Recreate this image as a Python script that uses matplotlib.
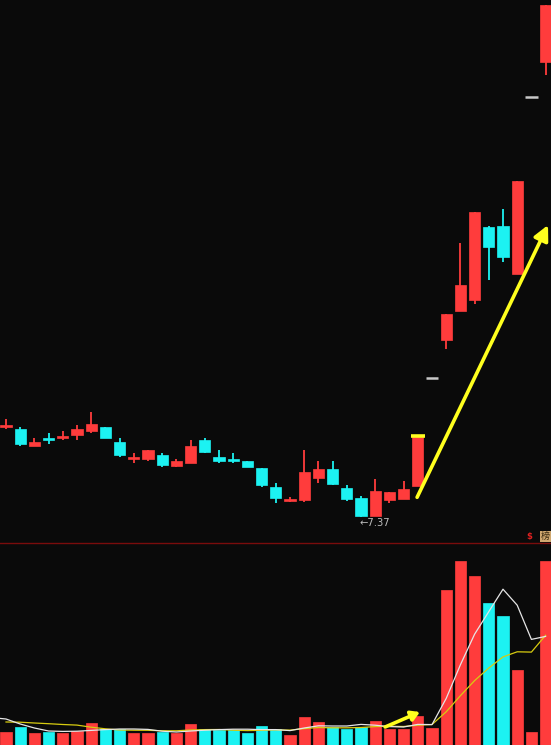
import matplotlib
matplotlib.use("Agg")
import matplotlib.pyplot as plt
import numpy as np
import pandas as pd
from matplotlib.lines import Line2D

# ---------------- data ----------------
opens  = [8.69, 8.67, 8.42, 8.53, 8.53, 8.58, 8.64, 8.69, 8.47, 8.23,
          8.22, 8.29, 8.12, 8.17, 8.51, 8.26, 8.22, 8.19, 8.09, 7.81,
          7.60, 7.62, 7.94, 8.07, 7.79, 7.65, 7.39, 7.62, 7.63, 7.82,
          9.42, 9.97, 10.41, 10.57, 11.64, 11.65, 10.95, 13.55, 14.07]
highs  = [8.82, 8.69, 8.54, 8.61, 8.64, 8.72, 8.91, 8.70, 8.53, 8.31,
          8.36, 8.31, 8.22, 8.51, 8.54, 8.36, 8.31, 8.19, 8.09, 7.87,
          7.66, 8.35, 8.19, 8.20, 7.84, 7.68, 7.93, 7.74, 7.90, 8.56,
          9.42, 10.36, 11.40, 11.86, 11.66, 11.90, 12.32, 13.55, 14.91]
lows   = [8.67, 8.42, 8.41, 8.45, 8.51, 8.51, 8.60, 8.53, 8.26, 8.16,
          8.20, 8.10, 8.10, 8.16, 8.31, 8.17, 8.17, 8.10, 7.81, 7.58,
          7.59, 7.59, 7.87, 7.84, 7.60, 7.37, 7.38, 7.58, 7.63, 7.82,
          9.42, 9.84, 10.41, 10.51, 10.86, 11.13, 10.95, 13.55, 13.88]
closes = [8.72, 8.45, 8.47, 8.50, 8.57, 8.67, 8.74, 8.54, 8.28, 8.26,
          8.35, 8.13, 8.20, 8.42, 8.32, 8.19, 8.19, 8.10, 7.84, 7.65,
          7.63, 8.03, 8.07, 7.85, 7.63, 7.38, 7.76, 7.74, 7.78, 8.56,
          9.42, 10.36, 10.78, 11.86, 11.35, 11.20, 12.32, 13.55, 14.91]
volume = [13, 18, 12, 13, 12, 14, 22, 16, 16, 12,
          12, 13, 12, 21, 16, 15, 15, 12, 19, 16,
          10, 28, 23, 18, 16, 18, 24, 16, 16, 29,
          17, 155, 184, 169, 142, 129, 75, 13, 184]
vol_prior = [20, 20, 20, 20, 20, 43, 32, 28, 14]   # sessions before the visible window
low_label = "←7.37"
low_label_idx = 25
breakout_idx = 29

# ---------------- style ----------------
BG = "#0a0a0a"
RED = "#ff3c3c"
CYAN = "#1cf2f2"
GRAY = "#c8c8c8"
YEL = "#ffff1e"

W, H = 551, 745
fig = plt.figure(figsize=(W / 100, H / 100), dpi=100, facecolor=BG)
sep = 202 / H
ax = fig.add_axes([0, sep, 1, 1 - sep], facecolor=BG)
axv = fig.add_axes([0, 0, 1, sep], facecolor=BG)

n = len(closes)
x = np.arange(n)
o = np.array(opens); c = np.array(closes); h = np.array(highs); l = np.array(lows)

flat = (o == c) & (h == l)
up = (c >= o) & ~flat
down = c < o
body_w = 0.8

# wicks
for mask, col in ((up, RED), (down, CYAN)):
    ax.vlines(x[mask], l[mask], h[mask], color=col, lw=1.3, zorder=2)
# bodies
for mask, col in ((up, RED), (down, CYAN)):
    bottoms = np.minimum(o, c)[mask]
    heights = np.maximum(np.abs(c - o)[mask], 0.02)
    ax.bar(x[mask], heights, bottom=bottoms, width=body_w, color=col,
           edgecolor=col, linewidth=0.5, zorder=3)
# one-price limit-up days
ax.hlines(c[flat], x[flat] - 0.45, x[flat] + 0.45, color=GRAY, lw=1.8, zorder=3)

# highlight on breakout candle top
ax.hlines(h[breakout_idx], breakout_idx - 0.48, breakout_idx + 0.48,
          color=YEL, lw=2.6, zorder=4)

# big yellow arrow
ax.annotate("", xy=(38.17, 11.67), xytext=(breakout_idx - 0.05, 7.66),
            arrowprops=dict(arrowstyle="-|>,head_length=0.9,head_width=0.45",
                            color=YEL, lw=2.6, shrinkA=0, shrinkB=0), zorder=5)

# low label
ax.annotate(low_label, xy=(low_label_idx, lows[low_label_idx]),
            xytext=(-1, -6), textcoords="offset pixels",
            color="#bdbdbd", fontsize=7.2, ha="left", va="center",
            family="DejaVu Sans")

xl = (-6 / 14.2, (W - 6) / 14.2)
ax.set_xlim(*xl)
b = 0.014727
ax.set_ylim(7.37 - 26 * b, 7.37 + 517 * b)
ax.axis("off")

# ---------------- volume ----------------
vcol = np.where(c >= o, RED, CYAN)
axv.bar(x, volume, width=body_w, color=vcol, edgecolor=vcol, linewidth=0.5, zorder=2)

allv = pd.Series(vol_prior + volume, dtype=float)
xa = np.arange(-len(vol_prior), n)
ma5 = allv.rolling(5).mean()
ma10 = allv.rolling(10).mean()
axv.plot(xa, ma10, color="#d8cc10", lw=0.9, zorder=3)
axv.plot(xa, ma5, color="#e6e6e6", lw=0.9, zorder=4)

axv.annotate("", xy=(29.15, 33), xytext=(26.7, 18),
             arrowprops=dict(arrowstyle="-|>,head_length=0.5,head_width=0.3",
                             color=YEL, lw=2.6, shrinkA=0, shrinkB=0), zorder=5)

axv.set_xlim(*xl)
axv.set_ylim(0, 202)
axv.axis("off")

# separator line
fig.add_artist(Line2D([0, 1], [sep, sep], transform=fig.transFigure,
                      color="#7a0c0c", lw=1.0))

# small icons at the right of the separator
fig.text(529 / W, 1 - 537 / H, "$", color="#e02020", fontsize=6,
         ha="center", va="center", fontweight="bold")
fig.text(545.5 / W, 1 - 536.5 / H, "榜", color="#3a2a10", fontsize=6.5,
         ha="center", va="center", family=["Noto Sans CJK SC", "DejaVu Sans"],
         bbox=dict(boxstyle="square,pad=0.12", fc="#d0a870", ec="none"))

fig.savefig("out.png", dpi=100, facecolor=BG)
